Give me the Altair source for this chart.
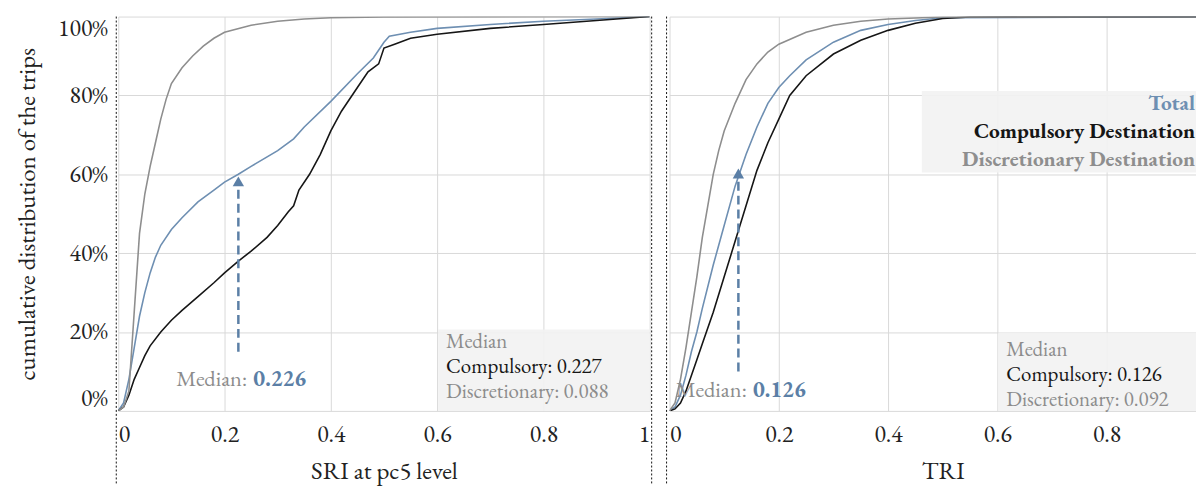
import altair as alt
import pandas as pd

FONT = "EB Garamond"
series_names = ["Total", "Compulsory Destination", "Discretionary Destination"]
series_colors = ["#6e8fb2", "#161616", "#8e8e8e"]
arrow_color = "#5b7fa6"

# ---------------- SRI panel (left) ----------------
sri_total_x = [0, 0.01, 0.02, 0.03, 0.04, 0.05, 0.06, 0.07, 0.08, 0.10, 0.12, 0.15, 0.18, 0.20, 0.226, 0.25,
               0.30, 0.33, 0.35, 0.40, 0.45, 0.48, 0.50, 0.51, 0.55, 0.60, 0.70, 0.80, 0.90, 1.0]
sri_total_y = [0, 0.02, 0.08, 0.16, 0.24, 0.30, 0.35, 0.39, 0.42, 0.46, 0.49, 0.53, 0.56, 0.58, 0.60, 0.62,
               0.66, 0.69, 0.72, 0.785, 0.855, 0.895, 0.935, 0.95, 0.96, 0.97, 0.98, 0.988, 0.994, 1.0]
sri_comp_x = [0, 0.01, 0.02, 0.03, 0.04, 0.05, 0.06, 0.08, 0.10, 0.12, 0.15, 0.18, 0.20, 0.226, 0.25, 0.28,
              0.30, 0.32, 0.33, 0.34, 0.36, 0.38, 0.40, 0.42, 0.45, 0.47, 0.49, 0.50, 0.52, 0.55, 0.60,
              0.70, 0.80, 0.90, 1.0]
sri_comp_y = [0, 0.01, 0.04, 0.08, 0.11, 0.14, 0.165, 0.20, 0.23, 0.255, 0.29, 0.325, 0.35, 0.38, 0.405, 0.44,
              0.47, 0.505, 0.52, 0.56, 0.60, 0.65, 0.71, 0.76, 0.82, 0.86, 0.88, 0.92, 0.93, 0.945, 0.955,
              0.97, 0.98, 0.99, 1.0]
sri_disc_x = [0, 0.01, 0.02, 0.03, 0.04, 0.05, 0.06, 0.07, 0.08, 0.09, 0.10, 0.12, 0.14, 0.16, 0.18, 0.20,
              0.25, 0.30, 0.35, 0.40, 0.50, 1.0]
sri_disc_y = [0, 0.01, 0.05, 0.25, 0.45, 0.55, 0.62, 0.68, 0.74, 0.79, 0.83, 0.87, 0.90, 0.925, 0.945, 0.96,
              0.978, 0.988, 0.994, 0.997, 0.999, 1.0]

# ---------------- TRI panel (right) ----------------
tri_total_x = [0, 0.01, 0.02, 0.03, 0.04, 0.05, 0.06, 0.08, 0.10, 0.12, 0.14, 0.16, 0.18, 0.20, 0.22, 0.25,
               0.30, 0.35, 0.40, 0.45, 0.50, 1.0]
tri_total_y = [0, 0.01, 0.04, 0.09, 0.15, 0.20, 0.26, 0.37, 0.47, 0.57, 0.65, 0.72, 0.78, 0.82, 0.85, 0.89,
               0.935, 0.965, 0.98, 0.99, 0.997, 1.0]
tri_comp_x = [0, 0.01, 0.02, 0.03, 0.04, 0.05, 0.06, 0.08, 0.10, 0.12, 0.14, 0.16, 0.18, 0.20, 0.22, 0.25,
              0.30, 0.35, 0.40, 0.45, 0.50, 0.55, 1.0]
tri_comp_y = [0, 0.005, 0.02, 0.05, 0.09, 0.13, 0.17, 0.25, 0.34, 0.43, 0.52, 0.61, 0.68, 0.74, 0.80, 0.85,
              0.905, 0.94, 0.965, 0.983, 0.995, 0.999, 1.0]
tri_disc_x = [0, 0.01, 0.02, 0.03, 0.04, 0.05, 0.06, 0.07, 0.08, 0.09, 0.10, 0.12, 0.14, 0.16, 0.18, 0.20,
              0.25, 0.30, 0.35, 0.40, 0.50, 1.0]
tri_disc_y = [0, 0.02, 0.08, 0.16, 0.25, 0.34, 0.44, 0.52, 0.60, 0.66, 0.71, 0.78, 0.84, 0.88, 0.91, 0.93,
              0.96, 0.978, 0.988, 0.994, 0.999, 1.0]

x_ticks = [0, 0.2, 0.4, 0.6, 0.8, 1]
y_ticks = [0, 0.2, 0.4, 0.6, 0.8, 1]

sri_median_total = 0.226
tri_median_total = 0.126

ONE = pd.DataFrame({"k": [0]})


def frame(xs_list, ys_list):
    rows = []
    for name, xs, ys in zip(series_names, xs_list, ys_list):
        for x, y in zip(xs, ys):
            rows.append({"x": x, "y": y, "series": name})
    return pd.DataFrame(rows)


df_sri = frame([sri_total_x, sri_comp_x, sri_disc_x], [sri_total_y, sri_comp_y, sri_disc_y])
df_tri = frame([tri_total_x, tri_comp_x, tri_disc_x], [tri_total_y, tri_comp_y, tri_disc_y])

color = alt.Color("series:N", scale=alt.Scale(domain=series_names, range=series_colors), legend=None)


def text(txt, x, y, align, size, col, weight="normal"):
    return alt.Chart(ONE).mark_text(text=txt, align=align, baseline="middle", font=FONT,
                                    fontSize=size, fontWeight=weight, color=col).encode(
        x=alt.value(x), y=alt.value(y))


def rect(x0, x1, y0, y1):
    return alt.Chart(ONE).mark_rect(color="#f2f2f2", opacity=0.9).encode(
        x=alt.value(x0), x2=alt.value(x1), y=alt.value(y0), y2=alt.value(y1))


AX = dict(labelFont=FONT, titleFont=FONT, labelFontSize=24, titleFontSize=25, labelColor="#222",
          titleColor="#222", titleFontWeight="normal", gridColor="#d9d9d9", gridWidth=1,
          domain=False, ticks=False)


def panel(df, width, x_max, x_title, show_y, median, arrow_lo, arrow_hi, med_text_split,
          med_text_y, box, box_lines, legend):
    height = 397
    ticks = [t for t in x_ticks if t <= x_max + 1e-9]
    xaxis = alt.Axis(values=ticks, format="~g", title=x_title, labelFlush=True,
                     labelPadding=12, titlePadding=12, titleX=275 if not show_y else width / 2, **AX)
    if show_y:
        yaxis = alt.Axis(values=y_ticks, format="%", title="cumulative distribution of the trips",
                         labelFlush=True, labelPadding=11, titlePadding=18, **AX)
    else:
        yaxis = alt.Axis(values=y_ticks, labels=False, title=None, **AX)
    lines = alt.Chart(df).mark_line(strokeWidth=1.6, clip=True).encode(
        x=alt.X("x:Q", scale=alt.Scale(domain=[0, x_max], nice=False), axis=xaxis),
        y=alt.Y("y:Q", scale=alt.Scale(domain=[0, 1], nice=False), axis=yaxis),
        color=color,
    )
    layers = []
    layers.append(rect(*box))
    if legend is not None:
        layers.append(rect(*legend))
    layers.append(lines)
    adf = pd.DataFrame({"x": [median], "y0": [arrow_lo], "y1": [arrow_hi - 0.02], "yt": [arrow_hi - 0.018]})
    layers.append(alt.Chart(adf).mark_rule(strokeDash=[9, 5], strokeWidth=2.5, color=arrow_color).encode(
        x="x:Q", y="y0:Q", y2="y1:Q"))
    layers.append(alt.Chart(adf).mark_point(shape="triangle-up", filled=True, size=130, opacity=1,
                                            color=arrow_color).encode(x="x:Q", y="yt:Q"))
    layers.append(text("Median:", med_text_split - 3, med_text_y, "right", 22.5, "#8c8c8c"))
    layers.append(text(f"{median:.3f}", med_text_split + 3, med_text_y, "left", 22.5, arrow_color, "bold"))
    tx = box[0] + 8
    for (txt, col, ty) in box_lines:
        layers.append(text(txt, tx, ty, "left", 21, col))
    if legend is not None:
        for name, col, ty in zip(series_names, series_colors, [88, 116, 144]):
            layers.append(text(name, width - 1, ty, "right", 21.5, col, "bold"))
    rules_x = [-2, width + 2] if show_y else [-3]
    for rx in rules_x:
        layers.append(alt.Chart(ONE).mark_rule(strokeDash=[2, 2], strokeWidth=1, color="#111").encode(
            x=alt.value(rx), y=alt.value(0), y2=alt.value(472)))
    return alt.layer(*layers).properties(width=width, height=height)


left = panel(df_sri, 535, 1.0, "SRI at pc5 level", True, sri_median_total, 0.15, 0.60, 133, 365,
             (322, 535, 315, 397),
             [("Median", "#8c8c8c", 328), ("Compulsory: 0.227", "#161616", 353),
              ("Discretionary: 0.088", "#8c8c8c", 378)],
             None)
right = panel(df_tri, 530, 530 / 550, "TRI", False, tri_median_total, 0.10, 0.62, 81, 376,
              (331, 530, 318, 397),
              [("Median", "#8c8c8c", 336), ("Compulsory: 0.126", "#161616", 361),
               ("Discretionary: 0.092", "#8c8c8c", 386)],
              (254, 530, 75, 157))

chart = alt.hconcat(left, right, spacing=13).properties(
    padding={"left": 6, "top": 6, "right": 0, "bottom": 0}
).configure_view(stroke=None)

chart.save("out.html", embed_options={"renderer": "svg", "actions": False})
